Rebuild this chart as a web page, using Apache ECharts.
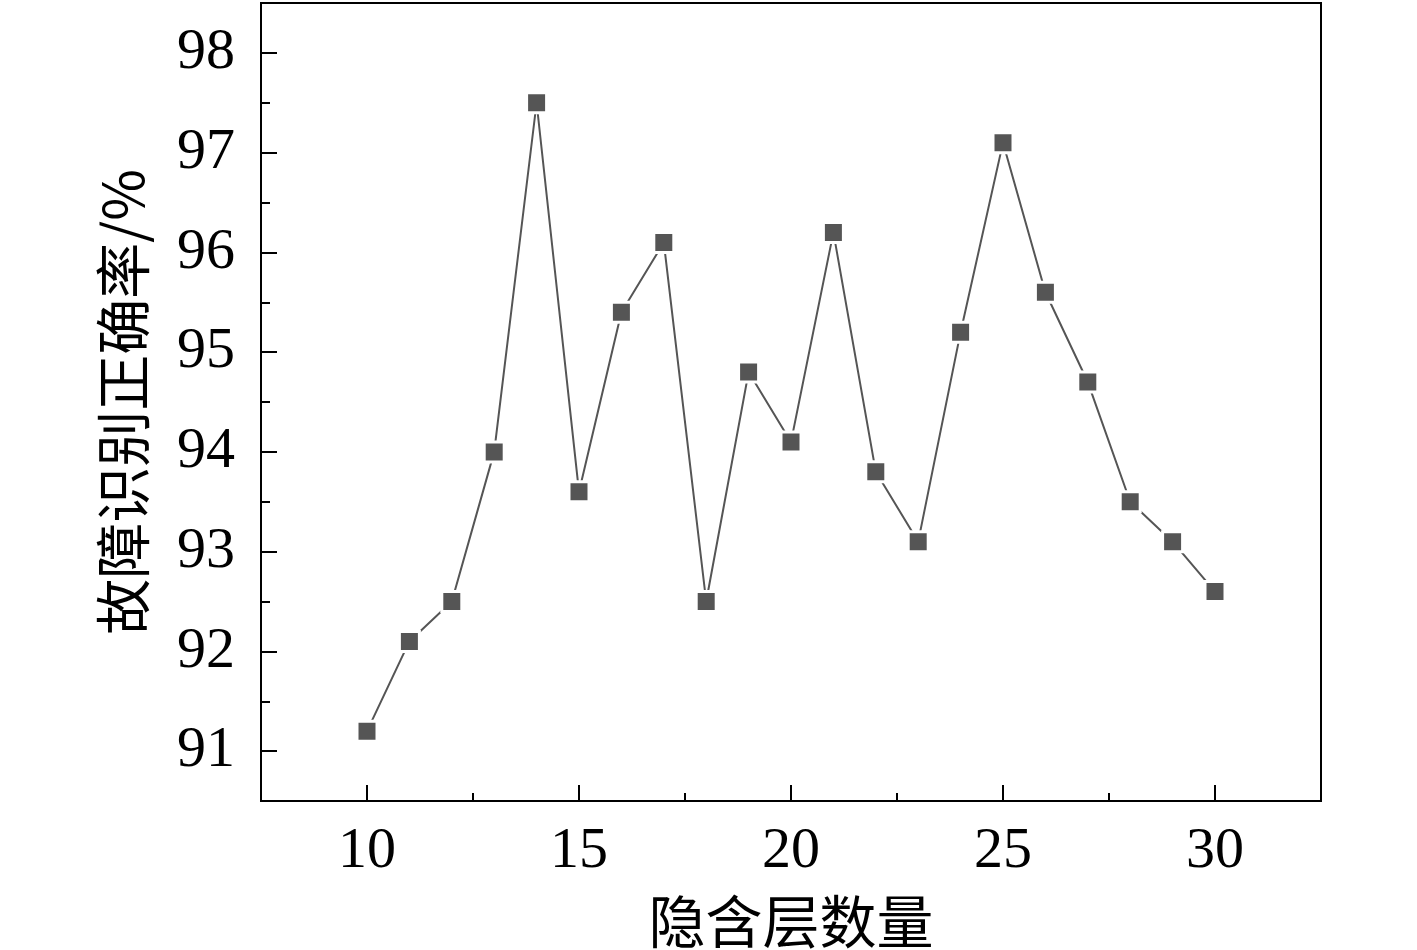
<!DOCTYPE html>
<html><head><meta charset="utf-8">
<script src="https://cdn.jsdelivr.net/npm/echarts@6/dist/echarts.min.js"></script>
<style>html,body{margin:0;padding:0;background:#fff}#c{width:1417px;height:950px}</style>
</head><body><div id="c"></div>
<script>
const layers = [10,11,12,13,14,15,16,17,18,19,20,21,22,23,24,25,26,27,28,29,30];
const accuracy = [91.2,92.1,92.5,94.0,97.5,93.6,95.4,96.1,92.5,94.8,94.1,96.2,93.8,93.1,95.2,97.1,95.6,94.7,93.5,93.1,92.6];
const xMajorTicks = [10,15,20,25,30];
const xMinorTicks = [12.5,17.5,22.5,27.5];
const yMajorTicks = [91,92,93,94,95,96,97,98];
const yMinorTicks = [90.5,91.5,92.5,93.5,94.5,95.5,96.5,97.5];
const xName = '隐含层数量';
const yName = '故障识别正确率/%';

const fontFam = '"Liberation Serif","Times New Roman",serif';
const cjkFam = '"Noto Sans CJK SC",serif';
const chart = echarts.init(document.getElementById('c'));
const axisLine = {show:true,onZero:false,lineStyle:{color:'#000',width:2}};
chart.setOption({
  animation:false,
  backgroundColor:'#fff',
  grid:{left:261,top:3,right:96,bottom:149,containLabel:false,outerBoundsMode:'none',
    show:true,borderColor:'#000',borderWidth:2,backgroundColor:'transparent'},
  xAxis:[{type:'value',min:7.5,max:32.5,interval:2.5,
    name:xName,nameLocation:'middle',nameGap:92,
    nameTextStyle:{fontFamily:cjkFam,fontSize:57,color:'#000'},
    axisLine:axisLine,
    axisTick:{show:true,inside:true,length:16,customValues:xMajorTicks,lineStyle:{color:'#000',width:2}},
    axisLabel:{fontFamily:fontFam,fontSize:58,color:'#000',margin:22,customValues:xMajorTicks},
    splitLine:{show:false}},
   {type:'value',min:7.5,max:32.5,interval:2.5,position:'bottom',
    axisLine:{show:false},
    axisTick:{show:true,inside:true,length:8,customValues:xMinorTicks,lineStyle:{color:'#000',width:2}},
    axisLabel:{show:false},splitLine:{show:false}}],
  yAxis:[{type:'value',min:90.5,max:98.5,interval:0.5,
    name:yName,nameLocation:'middle',nameGap:110,
    nameTextStyle:{fontFamily:cjkFam,fontSize:56,color:'#000'},
    axisLine:axisLine,
    axisTick:{show:true,inside:true,length:16,customValues:yMajorTicks,lineStyle:{color:'#000',width:2}},
    axisLabel:{fontFamily:fontFam,fontSize:58,color:'#000',margin:26,customValues:yMajorTicks},
    splitLine:{show:false}},
   {type:'value',min:90.5,max:98.5,interval:0.5,position:'left',
    axisLine:{show:false},
    axisTick:{show:true,inside:true,length:9,customValues:yMinorTicks,lineStyle:{color:'#000',width:2}},
    axisLabel:{show:false},splitLine:{show:false}}],
  series:[{type:'line',data:layers.map((x,i)=>[x,accuracy[i]]),
    symbol:'rect',symbolSize:20,
    itemStyle:{color:'#555',borderColor:'#fff',borderWidth:3},
    lineStyle:{color:'#555',width:2}}]
});
</script></body></html>
